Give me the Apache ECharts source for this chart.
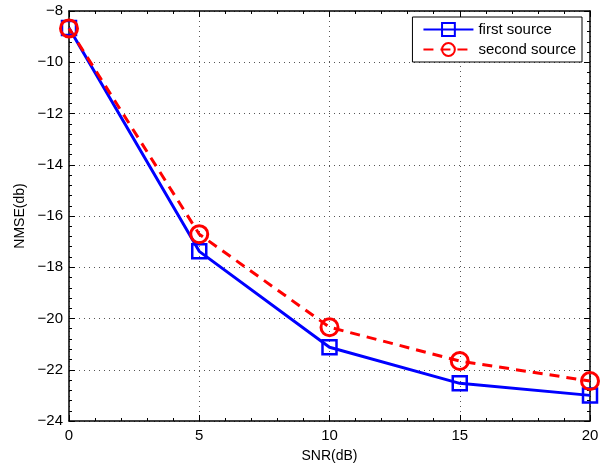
<!DOCTYPE html>
<html>
<head>
<meta charset="utf-8">
<script src="https://cdn.jsdelivr.net/npm/echarts@6/dist/echarts.min.js"></script>
<style>
  html, body { margin: 0; padding: 0; background: #fff; }
  #chart { width: 611px; height: 472px; }
</style>
</head>
<body>
<div id="chart"></div>
<script>
// data
const snr = [0, 5, 10, 15, 20];
const firstSource = [-8.66, -17.38, -21.12, -22.53, -23.0];
const secondSource = [-8.68, -16.71, -20.34, -21.66, -22.44];

const fontFamily = 'Liberation Sans, Arial, sans-serif';
const minus = (v) => String(v).replace('-', '\u2212');

const chart = echarts.init(document.getElementById('chart'));

const pairs = (xs, ys) => xs.map((x, i) => [x, ys[i]]);

// box axes: ticks pointing inward, dotted grid
const baseAxis = {
    type: 'value',
    axisLine: { show: true, onZero: false, lineStyle: { color: '#000', width: 1.5 } },
    axisTick: { show: true, inside: true, length: 6, lineStyle: { color: '#000' } },
    minorTick: { show: true, splitNumber: 5, length: 3, lineStyle: { color: '#000' } },
    axisLabel: { color: '#000', fontSize: 15, fontFamily: fontFamily, formatter: minus }
};

const option = {
    backgroundColor: '#fff',
    animation: false,
    grid: { left: 69, right: 21, top: 11, bottom: 51, containLabel: false },
    xAxis: [
        Object.assign({}, baseAxis, {
            min: 0, max: 20, interval: 5, position: 'bottom',
            name: 'SNR(dB)', nameLocation: 'middle', nameGap: 28,
            nameTextStyle: { color: '#000', fontSize: 14, fontFamily: fontFamily },
            axisLabel: Object.assign({}, baseAxis.axisLabel, { margin: 7 }),
            splitLine: { show: true, lineStyle: { color: '#555', type: [1, 4], width: 1 } }
        }),
        Object.assign({}, baseAxis, {
            min: 0, max: 20, interval: 5, position: 'top',
            axisLabel: { show: false }, splitLine: { show: false }
        })
    ],
    yAxis: [
        Object.assign({}, baseAxis, {
            min: -24, max: -8, interval: 2, position: 'left',
            name: 'NMSE(db)', nameLocation: 'middle', nameGap: 42, nameRotate: 90,
            nameTextStyle: { color: '#000', fontSize: 14, fontFamily: fontFamily },
            axisLabel: Object.assign({}, baseAxis.axisLabel, { margin: 6 }),
            splitLine: { show: true, lineStyle: { color: '#555', type: [1, 4], width: 1 } }
        }),
        Object.assign({}, baseAxis, {
            min: -24, max: -8, interval: 2, position: 'right',
            axisLabel: { show: false }, splitLine: { show: false }
        })
    ],
    legend: {
        right: 29, top: 17,
        orient: 'vertical',
        backgroundColor: '#fff',
        borderColor: '#000',
        borderWidth: 1,
        borderRadius: 0,
        padding: [5, 6, 5, 10],
        itemGap: 5,
        itemWidth: 50,
        itemHeight: 16,
        textStyle: { color: '#000', fontSize: 15, fontFamily: fontFamily },
        data: ['first source', 'second source']
    },
    series: [
        {
            name: 'first source',
            type: 'line',
            data: pairs(snr, firstSource),
            symbol: 'rect',
            symbolSize: 14,
            lineStyle: { color: '#0000ff', width: 3 },
            itemStyle: { color: 'rgba(0,0,0,0)', borderColor: '#0000ff', borderWidth: 2.5 },
            emphasis: { disabled: true }
        },
        {
            name: 'second source',
            type: 'line',
            data: pairs(snr, secondSource),
            symbol: 'circle',
            symbolSize: 17,
            lineStyle: { color: '#ff0000', width: 3, type: [10, 7] },
            itemStyle: { color: 'rgba(0,0,0,0)', borderColor: '#ff0000', borderWidth: 3 },
            emphasis: { disabled: true }
        }
    ]
};

chart.setOption(option);
</script>
</body>
</html>
